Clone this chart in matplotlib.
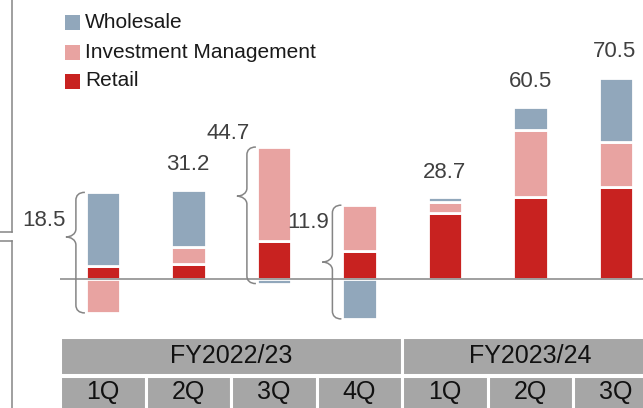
import matplotlib
matplotlib.use("Agg")
import matplotlib.pyplot as plt
from matplotlib.patches import Rectangle, PathPatch
from matplotlib.path import Path
import matplotlib.transforms as mtransforms
import numpy as np

plt.rcParams['font.family'] = ['Liberation Sans', 'DejaVu Sans']

# ---------------- data ----------------
quarters = ["1Q", "2Q", "3Q", "4Q", "1Q", "2Q", "3Q"]
fiscal_years = ["FY2022/23", "FY2023/24"]
fy_quarter_counts = [4, 4]          # second year continues beyond the crop
series_names = ["Wholesale", "Investment Management", "Retail"]
retail = [4.7, 5.4, 13.2, 9.8, 23.3, 28.9, 32.3]
invest_mgmt = [-11.9, 5.8, 33.1, 16.1, 3.6, 23.3, 15.6]
wholesale = [25.7, 20.0, -1.6, -14.0, 1.8, 8.3, 22.6]
totals = ["18.5", "31.2", "44.7", "11.9", "28.7", "60.5", "70.5"]

# ---------------- style ----------------
C_WHOLE = "#91a7bb"
C_IM = "#e8a3a1"
C_RETAIL = "#c82220"
C_GRAY_LINE = "#858585"
C_TABLE = "#a6a6a6"
C_NUM = "#404040"

W, H = 643, 408
DPI = 100
X0_PX, DX_PX = 103.0, 85.5      # first category centre, category pitch (px)
Y0_PX, PX_PER_UNIT = 279.0, 2.85

fig = plt.figure(figsize=(W / DPI, H / DPI), dpi=DPI)
ax = fig.add_axes([0, 0, 1, 1])
ax.set_xlim(-X0_PX / DX_PX, (W - X0_PX) / DX_PX)
ax.set_ylim(-(H - Y0_PX) / PX_PER_UNIT, Y0_PX / PX_PER_UNIT)
ax.axis("off")

def dxu(px):   # pixel -> data x distance
    return px / DX_PX

def dyu(px):   # pixel -> data y distance
    return px / PX_PER_UNIT

n = len(quarters)
x = np.arange(n)
bar_w = 0.40

# stacked bars (positives stack up, negatives stack down)
pos_base = np.zeros(n)
neg_base = np.zeros(n)
for vals, col in [(retail, C_RETAIL), (invest_mgmt, C_IM), (wholesale, C_WHOLE)]:
    v = np.array(vals, dtype=float)
    bottoms = np.where(v >= 0, pos_base, neg_base)
    ax.bar(x, v, bottom=bottoms, width=bar_w, color=col,
           edgecolor="white", linewidth=2.0, zorder=2)
    pos_base = pos_base + np.where(v >= 0, v, 0)
    neg_base = neg_base + np.where(v < 0, v, 0)

# zero line
ax.hlines(0, -0.5, ax.get_xlim()[1], color=C_GRAY_LINE, lw=1.1, zorder=3)

# curly braces for quarters with negative contributions
tip_frac = {0: 0.37, 2: 0.36, 3: 0.50}
def brace(xc, top, bot, frac):
    xr = xc - bar_w / 2 - dxu(1)
    xv = xr - dxu(9)
    xt = xv - dxu(10)
    h = dyu(8)
    ym = top - frac * (top - bot)
    verts = [
        (xr, top),
        (xv + dxu(3), top), (xv, top - dyu(3)), (xv, top - h),
        (xv, ym + h),
        (xv, ym + dyu(3)), (xv - dxu(5), ym), (xt, ym),
        (xv - dxu(5), ym), (xv, ym - dyu(3)), (xv, ym - h),
        (xv, bot + h),
        (xv, bot + dyu(3)), (xv + dxu(3), bot), (xr, bot),
    ]
    codes = [Path.MOVETO,
             Path.CURVE4, Path.CURVE4, Path.CURVE4,
             Path.LINETO,
             Path.CURVE4, Path.CURVE4, Path.CURVE4,
             Path.CURVE4, Path.CURVE4, Path.CURVE4,
             Path.LINETO,
             Path.CURVE4, Path.CURVE4, Path.CURVE4]
    ax.add_patch(PathPatch(Path(verts, codes), facecolor="none",
                           edgecolor=C_GRAY_LINE, lw=1.1, zorder=3))

for i in range(n):
    if neg_base[i] < 0:
        brace(x[i], pos_base[i], neg_base[i], tip_frac.get(i, 0.4))

# total labels: pixel offsets from (bar centre, top of positive stack)
label_off_px = [(-59, -28), (-1, 26), (-46, 14), (-51, -17),
                (0, 25), (0, 25), (-1, 27)]
for i in range(n):
    dx, dy = label_off_px[i]
    ax.annotate(totals[i], xy=(x[i], pos_base[i]),
                xytext=(dx * 0.72, dy * 0.72), textcoords="offset points",
                ha="center", va="center", fontsize=16, color=C_NUM, zorder=4)

# header table (x in data coords, y in figure pixels)
btr = mtransforms.blended_transform_factory(ax.transData, fig.transFigure)
def fyp(q):
    return 1 - q / H

row1 = (337, 375)
row2 = (376, 412)
start = 0
for fy, cnt in zip(fiscal_years, fy_quarter_counts):
    left = start - 0.5
    ax.add_patch(Rectangle((left, fyp(row1[1])), cnt, fyp(row1[0]) - fyp(row1[1]),
                           transform=btr, facecolor=C_TABLE, edgecolor="white",
                           lw=2.2, zorder=1, clip_on=False))
    visible_end = min(start + cnt, n)
    xc = (start + visible_end - 1) / 2
    ax.text(xc, fyp((row1[0] + row1[1]) / 2), fy, transform=btr,
            ha="center", va="center", fontsize=18, color="#111111", zorder=2)
    start += cnt
for i, q in enumerate(quarters):
    ax.add_patch(Rectangle((i - 0.5, fyp(row2[1])), 1, fyp(row2[0]) - fyp(row2[1]),
                           transform=btr, facecolor=C_TABLE, edgecolor="white",
                           lw=2.2, zorder=1, clip_on=False))
    ax.text(i, fyp(392), q, transform=btr, ha="center", va="center",
            fontsize=18, color="#111111", zorder=2)

# legend (manual)
leg_colors = [C_WHOLE, C_IM, C_RETAIL]
leg_y = [22.5, 52, 81]
for name, col, yc in zip(series_names, leg_colors, leg_y):
    fig.add_artist(Rectangle((65 / W, fyp(yc + 7.5)), 15 / W, 15 / H,
                             transform=fig.transFigure, facecolor=col,
                             edgecolor="none"))
    fig.text(85 / W, fyp(yc), name, ha="left", va="center",
             fontsize=15, color="#1a1a1a")

# frame fragments on left edge
fig.add_artist(plt.Line2D([11.7 / W, 11.7 / W], [1, fyp(232)], transform=fig.transFigure,
                          color=C_GRAY_LINE, lw=1.1))
fig.add_artist(plt.Line2D([0, 11.7 / W], [fyp(232), fyp(232)], transform=fig.transFigure,
                          color=C_GRAY_LINE, lw=1.1))
fig.add_artist(plt.Line2D([0, 11.7 / W], [fyp(241), fyp(241)], transform=fig.transFigure,
                          color=C_GRAY_LINE, lw=1.1))
fig.add_artist(plt.Line2D([11.7 / W, 11.7 / W], [fyp(241), 0], transform=fig.transFigure,
                          color=C_GRAY_LINE, lw=1.1))

fig.savefig("out.png", dpi=DPI)
